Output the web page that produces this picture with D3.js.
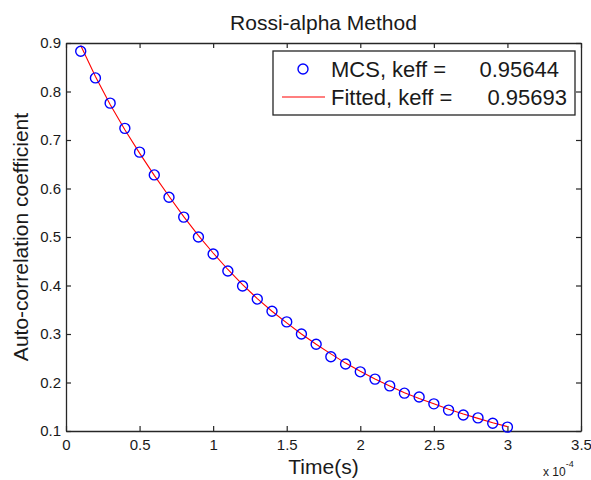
<!DOCTYPE html>
<html>
<head>
<meta charset="utf-8">
<script src="https://cdn.jsdelivr.net/npm/d3@7"></script>
<style>
  body { margin: 0; background: #fff; }
  svg { display: block; }
  text { font-family: Arial, "Liberation Sans", sans-serif; fill: #1a1a1a; }
</style>
</head>
<body>
<div id="chart"></div>
<script>
// time in units of 1e-4 s
const time = [0.1, 0.2, 0.3, 0.4, 0.5, 0.6, 0.7, 0.8, 0.9, 1.0,
              1.1, 1.2, 1.3, 1.4, 1.5, 1.6, 1.7, 1.8, 1.9, 2.0,
              2.1, 2.2, 2.3, 2.4, 2.5, 2.6, 2.7, 2.8, 2.9, 3.0];
const mcs = [0.883, 0.828, 0.776, 0.724, 0.675, 0.628, 0.582, 0.541, 0.500, 0.465,
             0.430, 0.399, 0.372, 0.347, 0.325, 0.300, 0.279, 0.253, 0.238, 0.222,
             0.207, 0.193, 0.178, 0.170, 0.156, 0.143, 0.133, 0.127, 0.116, 0.108];
const fitted = [0.895, 0.831, 0.773, 0.721, 0.673, 0.627, 0.584, 0.542, 0.503, 0.467,
                0.433, 0.402, 0.373, 0.347, 0.323, 0.300, 0.279, 0.259, 0.240, 0.223,
                0.207, 0.193, 0.179, 0.167, 0.156, 0.145, 0.135, 0.126, 0.117, 0.109];
const xTicks = [0, 0.5, 1, 1.5, 2, 2.5, 3, 3.5];
const yTicks = [0.1, 0.2, 0.3, 0.4, 0.5, 0.6, 0.7, 0.8, 0.9];
const legendLabels = ["MCS, keff =", "Fitted, keff ="];
const legendValues = ["0.95644", "0.95693"];

const width = 591, height = 480;
const margin = { top: 43, left: 66, bottom: 49, right: 10 };
const iwidth = width - margin.left - margin.right;
const iheight = height - margin.top - margin.bottom;

const svg = d3.select("#chart").append("svg")
  .attr("width", width)
  .attr("height", height);

const g = svg.append("g").attr("transform", `translate(${margin.left},${margin.top})`);

const x = d3.scaleLinear().domain([0, 3.5]).range([0, iwidth]);
const y = d3.scaleLinear().domain([0.1, 0.9]).range([iheight, 0]);

const axisColor = "#262626";

// axes with inward ticks, MATLAB style box
const styleAxis = sel => {
  sel.select(".domain").attr("stroke", axisColor).attr("stroke-width", 1.3);
  sel.selectAll(".tick line").attr("stroke", axisColor).attr("stroke-width", 1.2);
  sel.selectAll("text").attr("font-size", 15).attr("fill", "#1a1a1a")
    .style("font-family", "Arial, 'Liberation Sans', sans-serif");
};

g.append("g").attr("transform", `translate(0,${iheight})`)
  .call(d3.axisBottom(x).tickValues(xTicks).tickFormat(d3.format("")).tickSizeInner(-5).tickSizeOuter(0).tickPadding(8))
  .call(styleAxis);
g.append("g")
  .call(d3.axisTop(x).tickValues(xTicks).tickFormat("").tickSizeInner(-5).tickSizeOuter(0))
  .call(styleAxis);
g.append("g")
  .call(d3.axisLeft(y).tickValues(yTicks).tickFormat(d3.format(".1f")).tickSizeInner(-5).tickSizeOuter(0).tickPadding(5))
  .call(styleAxis);
g.append("g").attr("transform", `translate(${iwidth},0)`)
  .call(d3.axisRight(y).tickValues(yTicks).tickFormat("").tickSizeInner(-5).tickSizeOuter(0))
  .call(styleAxis);

// fitted line
const line = d3.line().x((d, i) => x(time[i])).y(d => y(d));
g.append("path").datum(fitted)
  .attr("fill", "none")
  .attr("stroke", "#ff0000")
  .attr("stroke-width", 1.1)
  .attr("d", line);

// MCS markers
g.selectAll("circle.mcs").data(mcs).enter().append("circle")
  .attr("class", "mcs")
  .attr("cx", (d, i) => x(time[i]))
  .attr("cy", d => y(d))
  .attr("r", 5)
  .attr("fill", "none")
  .attr("stroke", "#0000ff")
  .attr("stroke-width", 1.4);

// title and labels
svg.append("text")
  .attr("x", margin.left + iwidth / 2).attr("y", 30)
  .attr("text-anchor", "middle").attr("font-size", 21)
  .text("Rossi-alpha Method");

svg.append("text")
  .attr("x", margin.left + iwidth / 2).attr("y", 474)
  .attr("text-anchor", "middle").attr("font-size", 21)
  .text("Time(s)");

svg.append("text")
  .attr("transform", `translate(28,${margin.top + iheight / 2}) rotate(-90)`)
  .attr("text-anchor", "middle").attr("font-size", 21)
  .text("Auto-correlation coefficient");

const expo = svg.append("text")
  .attr("x", 543).attr("y", 476).attr("font-size", 12);
expo.append("tspan").text("x 10");
expo.append("tspan").attr("dy", -9).attr("font-size", 9).text("-4");

// legend
const lg = svg.append("g").attr("transform", "translate(273,51)");
lg.append("rect")
  .attr("width", 302).attr("height", 64)
  .attr("fill", "#fff").attr("stroke", axisColor).attr("stroke-width", 1.3);
lg.append("circle")
  .attr("cx", 30).attr("cy", 18).attr("r", 5)
  .attr("fill", "none").attr("stroke", "#0000ff").attr("stroke-width", 1.4);
lg.append("line")
  .attr("x1", 9).attr("x2", 52).attr("y1", 46).attr("y2", 46)
  .attr("stroke", "#ff0000").attr("stroke-width", 1.1);
lg.selectAll("text.lab").data(legendLabels).enter().append("text")
  .attr("class", "lab")
  .attr("x", 58).attr("y", (d, i) => 26 + i * 28)
  .attr("font-size", 22)
  .text(d => d);
lg.selectAll("text.val").data(legendValues).enter().append("text")
  .attr("class", "val")
  .attr("x", (d, i) => i === 0 ? 286 : 294).attr("y", (d, i) => 26 + i * 28)
  .attr("text-anchor", "end")
  .attr("font-size", 22)
  .text(d => d);
</script>
</body>
</html>
